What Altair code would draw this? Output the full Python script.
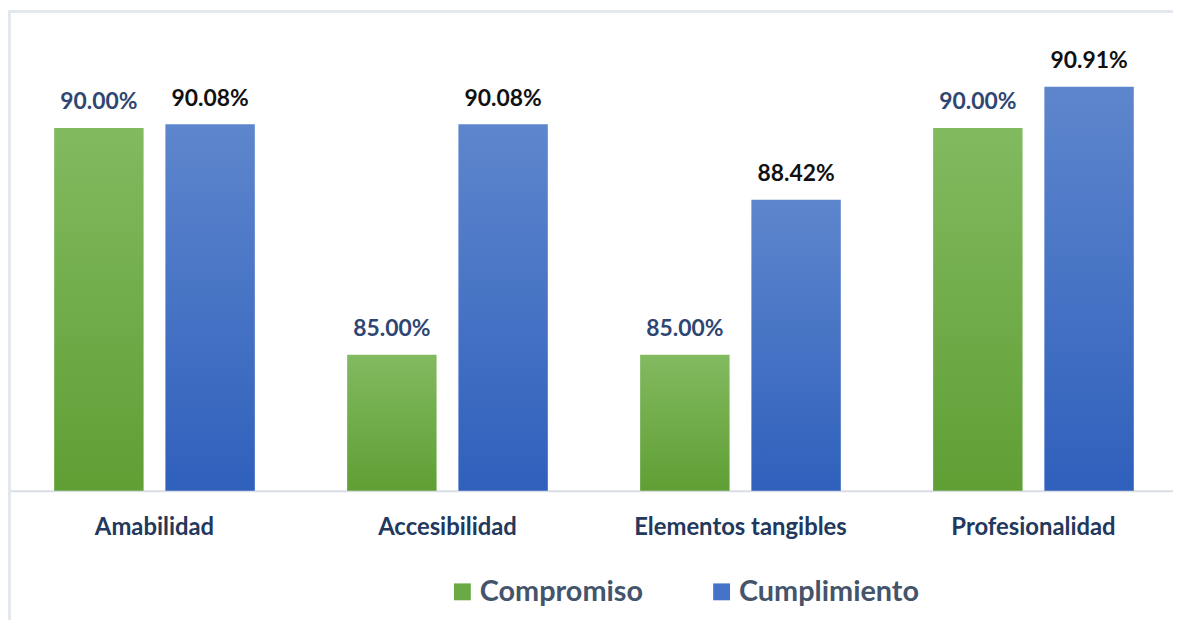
import altair as alt
import pandas as pd

categorias = ["Amabilidad", "Accesibilidad", "Elementos tangibles", "Profesionalidad"]
series = ["Compromiso", "Cumplimiento"]
compromiso = [90.00, 85.00, 85.00, 90.00]
cumplimiento = [90.08, 90.08, 88.42, 90.91]

rows = []
for c, v in zip(categorias, compromiso):
    rows.append({"cat": c, "serie": "Compromiso", "val": v, "lab": f"{v:.2f}%"})
for c, v in zip(categorias, cumplimiento):
    rows.append({"cat": c, "serie": "Cumplimiento", "val": v, "lab": f"{v:.2f}%"})
df = pd.DataFrame(rows)

FONT = "Lato"

green_grad = alt.LinearGradient(
    gradient="linear", x1=0, y1=0, x2=0, y2=1,
    stops=[alt.GradientStop(offset=0, color="#82ba60"),
           alt.GradientStop(offset=1, color="#5f9f34")])
blue_grad = alt.LinearGradient(
    gradient="linear", x1=0, y1=0, x2=0, y2=1,
    stops=[alt.GradientStop(offset=0, color="#5e86cd"),
           alt.GradientStop(offset=1, color="#2f60bc")])

base = alt.Chart(df).encode(
    x=alt.X("cat:N", sort=categorias, title=None,
            scale=alt.Scale(paddingInner=0, paddingOuter=0, range=[0, 1180]),
            axis=alt.Axis(labelAngle=0, ticks=False, domainColor="#d9dee6",
                          domainWidth=2, labelFont=FONT, labelFontSize=24,
                          labelFontWeight="bold", labelColor="#22385c",
                          labelPadding=25, labelLimit=0, grid=False)),
    xOffset=alt.XOffset("serie:N", sort=series,
                        scale=alt.Scale(paddingInner=0.196, paddingOuter=0.415)),
    y=alt.Y("val:Q", scale=alt.Scale(domain=[82, 92.6], nice=False, zero=False),
            axis=None),
)

bars_g = base.transform_filter(alt.datum.serie == "Compromiso").mark_bar(
    fill=green_grad).encode(y2=alt.datum(82))
bars_b = base.transform_filter(alt.datum.serie == "Cumplimiento").mark_bar(
    fill=blue_grad).encode(y2=alt.datum(82))

txt_g = base.transform_filter(alt.datum.serie == "Compromiso").mark_text(
    font=FONT, fontSize=23, fontWeight="bold", color="#2f4672",
    baseline="alphabetic", dy=-19).encode(text="lab:N")
txt_b = base.transform_filter(alt.datum.serie == "Cumplimiento").mark_text(
    font=FONT, fontSize=23, fontWeight="bold", color="#111111",
    baseline="alphabetic", dy=-19).encode(text="lab:N")

legend_layer = base.mark_square(opacity=0, size=1).encode(
    color=alt.Color("serie:N", sort=series,
                    scale=alt.Scale(domain=series, range=["#6aaa45", "#4573c8"]),
                    legend=alt.Legend(title=None, orient="none", legendX=443,
                                      legendY=571, direction="horizontal",
                                      columns=2, symbolType="square",
                                      symbolSize=289, symbolOpacity=1,
                                      symbolStrokeWidth=0,
                                      labelFont=FONT, labelFontSize=29,
                                      labelFontWeight="bold", labelColor="#44546a",
                                      labelOffset=3, columnPadding=64,
                                      labelLimit=0, padding=0, symbolOffset=0)))

border_top = alt.Chart(df).mark_rule(color="#e3e7ee", strokeWidth=3).encode(
    x=alt.value(0), x2=alt.value(1173), y=alt.value(1.5))
border_left = alt.Chart(df).mark_rule(color="#e3e7ee", strokeWidth=3).encode(
    x=alt.value(1.5), y=alt.value(0), y2=alt.value(614))

chart = alt.layer(border_top, border_left, bars_g, bars_b, txt_g, txt_b,
                  legend_layer).properties(
    width=1173, height=484,
    padding={"left": 0, "top": 0, "right": 0, "bottom": 130},
    autosize=alt.AutoSizeParams(type="none"),
    background="white"
).configure_view(stroke=None)

chart.save("out.html", embed_options={"renderer": "svg", "actions": False})
